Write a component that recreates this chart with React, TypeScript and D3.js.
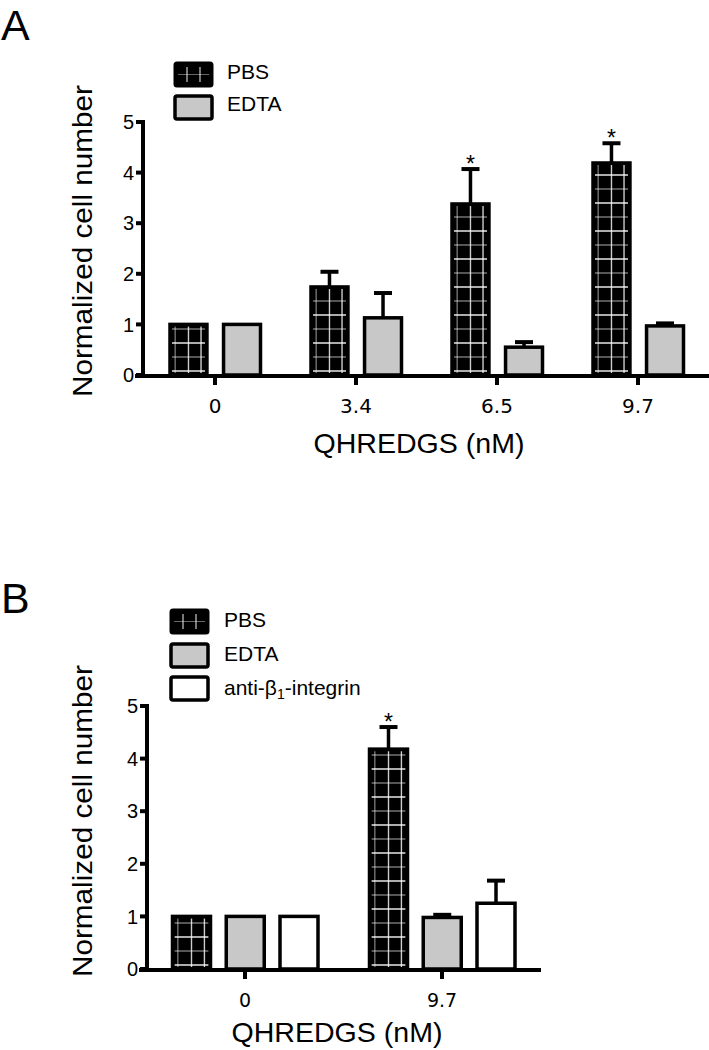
import React from 'react';
import * as d3 from 'd3';

// panel A data
const groupsA = ['0', '3.4', '6.5', '9.7'];
const seriesA = ['PBS', 'EDTA'];
const pbsA = [1.0, 1.74, 3.38, 4.19];
const pbsErrA = [0, 0.3, 0.69, 0.39];
const edtaA = [1.0, 1.13, 0.55, 0.97];
const edtaErrA = [0, 0.49, 0.1, 0.05];
const starsA = [false, false, true, true];

// panel B data
const groupsB = ['0', '9.7'];
const seriesB = ['PBS', 'EDTA', 'anti'];
const pbsB = [1.0, 4.18];
const pbsErrB = [0, 0.42];
const edtaB = [1.0, 0.98];
const edtaErrB = [0, 0.05];
const antiB = [1.0, 1.25];
const antiErrB = [0, 0.43];
const starsB = [false, true];

const yTicks = [0, 1, 2, 3, 4, 5];

const SANS = 'Arial, "Liberation Sans", sans-serif';
const GREY = '#c8c8c8';

type Bar = {group: string; series: string; value: number; err: number; star: boolean};

function PbsFill({x, y, w, h, id}: {x: number; y: number; w: number; h: number; id: string}) {
  // white grid lines inside the black bars
  const lines: JSX.Element[] = [];
  const bottom = y + h;
  let k = 0;
  for (let yy = bottom - 4; yy > y; yy -= 14, k++) {
    lines.push(
      <line key={'h' + k} x1={x} x2={x + w} y1={yy} y2={yy}
        stroke="#fff" strokeWidth={1.4} opacity={k % 2 ? 0.45 : 0.9} />
    );
  }
  [0.14, 0.5, 0.84].forEach((f, i) =>
    lines.push(
      <line key={'v' + i} x1={x + w * f} x2={x + w * f} y1={y} y2={bottom}
        stroke="#fff" strokeWidth={1.4} opacity={i === 0 ? 0.45 : 0.8} />
    )
  );
  return (
    <g>
      <clipPath id={id}>
        <rect x={x + 2} y={y + 2} width={w - 4} height={h - 4} />
      </clipPath>
      <rect x={x} y={y} width={w} height={h} fill="#000" />
      <g clipPath={`url(#${id})`}>{lines}</g>
    </g>
  );
}

function Panel(props: {
  id: string;
  groups: string[];
  series: string[];
  bars: Bar[];
  axisX: number;
  y0: number;
  y5: number;
  groupRange: [number, number];
  subRange: [number, number];
  subPad: number;
  xAxisEnd: number;
  yLabelCenter: number;
  titleX: number;
  titleY: number;
  tickLabelY: number;
  tickFont: number;
}) {
  const {id, groups, series, bars, axisX, y0, y5} = props;
  const y = d3.scaleLinear().domain([0, 5]).range([y0, y5]);
  const x = d3.scalePoint<string>().domain(groups).range(props.groupRange);
  const sub = d3.scaleBand<string>().domain(series).range(props.subRange).paddingInner(props.subPad);
  const bw = sub.bandwidth();

  return (
    <g>
      {bars.map((b, i) => {
        const bx = (x(b.group) as number) + (sub(b.series) as number);
        const top = y(b.value);
        const h = y0 - top;
        const cx = bx + bw / 2;
        const errTop = y(b.value + b.err);
        return (
          <g key={i}>
            {b.err > 0 && (
              <g stroke="#000">
                <line x1={cx} x2={cx} y1={top} y2={errTop} strokeWidth={3.5} />
                <line x1={cx - 9} x2={cx + 9} y1={errTop} y2={errTop} strokeWidth={4} />
              </g>
            )}
            {b.series === 'PBS' ? (
              <PbsFill x={bx} y={top} w={bw} h={h} id={`${id}-clip-${i}`} />
            ) : (
              <rect x={bx} y={top} width={bw} height={h}
                fill={b.series === 'EDTA' ? GREY : '#fff'} />
            )}
            <rect x={bx} y={top} width={bw} height={h} fill="none" stroke="#000" strokeWidth={3.5} />
            {b.star && (
              <text x={cx} y={errTop + 3} textAnchor="middle" fontFamily={SANS} fontSize={23}>*</text>
            )}
          </g>
        );
      })}

      {/* y axis */}
      <line x1={axisX} x2={axisX} y1={y5 - 2} y2={y0} stroke="#000" strokeWidth={4} />
      {yTicks.map(t => (
        <g key={t}>
          <line x1={axisX - 7} x2={axisX} y1={y(t)} y2={y(t)} stroke="#000" strokeWidth={4} />
          <text x={axisX - 9} y={y(t)} dy="0.36em" textAnchor="end" fontFamily={SANS} fontSize={20}>{t}</text>
        </g>
      ))}

      {/* x axis */}
      <line x1={axisX - 8} x2={props.xAxisEnd} y1={y0 + 1} y2={y0 + 1} stroke="#000" strokeWidth={4} />
      {groups.map(g => (
        <g key={g}>
          <line x1={x(g)} x2={x(g)} y1={y0} y2={y0 + 10} stroke="#000" strokeWidth={4} />
          <text x={x(g)} y={props.tickLabelY} textAnchor="middle" fontFamily='"DejaVu Sans", Verdana, sans-serif'
            fontSize={props.tickFont}>{g}</text>
        </g>
      ))}

      <text x={props.titleX} y={props.titleY} textAnchor="middle" fontFamily={SANS} fontSize={28}
        textLength={211} lengthAdjust="spacingAndGlyphs">QHREDGS (nM)</text>
      <text transform={`translate(92,${props.yLabelCenter}) rotate(-90)`} textAnchor="middle"
        fontFamily={SANS} fontSize={28} textLength={312} lengthAdjust="spacingAndGlyphs">
        Normalized cell number
      </text>
    </g>
  );
}

function LegendBox({x, y, kind}: {x: number; y: number; kind: string}) {
  const w = 37;
  const h = 23;
  if (kind === 'PBS') {
    return (
      <g>
        <rect x={x} y={y} width={w} height={h} rx={2} fill="#000" stroke="#000" strokeWidth={3} />
        <line x1={x + 3} x2={x + w - 3} y1={y + h / 2} y2={y + h / 2} stroke="#fff" strokeWidth={1} opacity={0.4} />
        <line x1={x + 12} x2={x + 12} y1={y + 4} y2={y + h - 4} stroke="#fff" strokeWidth={1.2} opacity={0.8} />
        <line x1={x + 25} x2={x + 25} y1={y + 4} y2={y + h - 4} stroke="#fff" strokeWidth={1.2} opacity={0.8} />
      </g>
    );
  }
  return <rect x={x} y={y} width={w} height={h} rx={2} fill={kind === 'EDTA' ? GREY : '#fff'} stroke="#000" strokeWidth={3.5} />;
}

function makeBars(groups: string[], series: string[], vals: number[][], errs: number[][], stars: boolean[]): Bar[] {
  const out: Bar[] = [];
  groups.forEach((g, gi) =>
    series.forEach((s, si) =>
      out.push({group: g, series: s, value: vals[si][gi], err: errs[si][gi], star: s === 'PBS' && stars[gi]})
    )
  );
  return out;
}

export default function App() {
  const barsA = makeBars(groupsA, seriesA, [pbsA, edtaA], [pbsErrA, edtaErrA], starsA);
  const barsB = makeBars(groupsB, seriesB, [pbsB, edtaB, antiB], [pbsErrB, edtaErrB, antiErrB], starsB);

  return (
    <div style={{position: 'absolute', left: 0, top: 0}}>
      <svg width={709} height={1050} viewBox="0 0 709 1050" style={{display: 'block', background: '#fff'}}>
        {/* Panel A */}
        <text x={1} y={40} fontFamily={SANS} fontSize={43}>A</text>
        <LegendBox x={175} y={63} kind="PBS" />
        <LegendBox x={175} y={96} kind="EDTA" />
        <text x={227} y={79} fontFamily={SANS} fontSize={21}>PBS</text>
        <text x={227} y={111} fontFamily={SANS} fontSize={21}>EDTA</text>
        <Panel id="a" groups={groupsA} series={seriesA} bars={barsA}
          axisX={143} y0={375} y5={122} groupRange={[215, 638]} subRange={[-45, 45.5]} subPad={0.31}
          xAxisEnd={709} yLabelCenter={241} titleX={419} titleY={453} tickLabelY={413} tickFont={20} />

        {/* Panel B */}
        <text x={1} y={613} fontFamily={SANS} fontSize={43}>B</text>
        <LegendBox x={171} y={610} kind="PBS" />
        <LegendBox x={171} y={644} kind="EDTA" />
        <LegendBox x={171} y={677} kind="anti" />
        <text x={224} y={627} fontFamily={SANS} fontSize={21}>PBS</text>
        <text x={224} y={661} fontFamily={SANS} fontSize={21}>EDTA</text>
        <text x={224} y={695} fontFamily={SANS} fontSize={21}>
          anti-β<tspan fontSize={14} dy={4}>1</tspan><tspan dy={-4}>-integrin</tspan>
        </text>
        <Panel id="b" groups={groupsB} series={seriesB} bars={barsB}
          axisX={147} y0={969} y5={706} groupRange={[245, 442]} subRange={[-72.5, 73]} subPad={0.293}
          xAxisEnd={541} yLabelCenter={821} titleX={337} titleY={1042} tickLabelY={1007} tickFont={19} />
      </svg>
    </div>
  );
}
